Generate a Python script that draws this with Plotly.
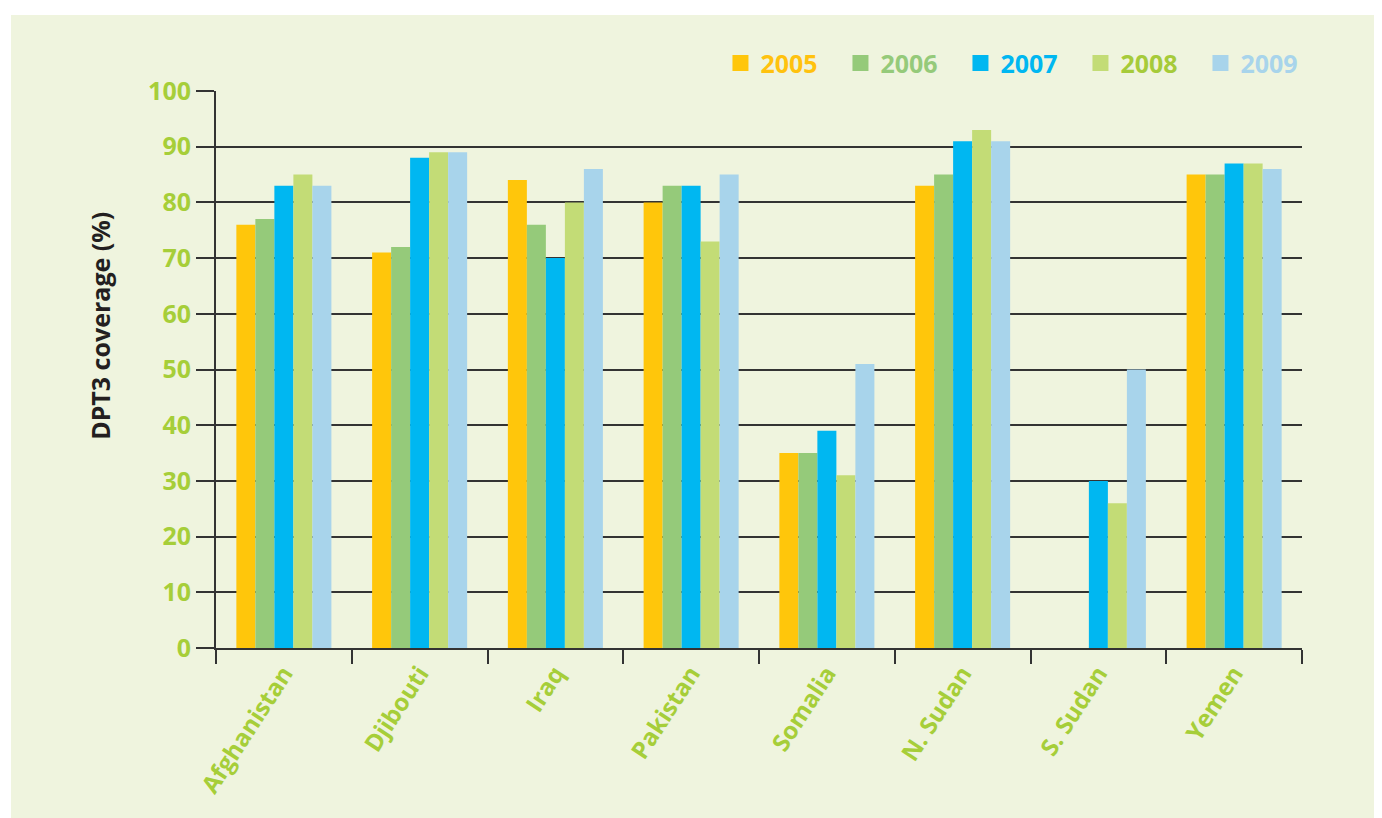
import plotly.graph_objects as go

countries = ["Afghanistan", "Djibouti", "Iraq", "Pakistan", "Somalia", "N. Sudan", "S. Sudan", "Yemen"]
years = ["2005", "2006", "2007", "2008", "2009"]
v2005 = [76, 71, 84, 80, 35, 83, None, 85]
v2006 = [77, 72, 76, 83, 35, 85, None, 85]
v2007 = [83, 88, 70, 83, 39, 91, 30, 87]
v2008 = [85, 89, 80, 73, 31, 93, 26, 87]
v2009 = [83, 89, 86, 85, 51, 91, 50, 86]
series = [v2005, v2006, v2007, v2008, v2009]
y_ticks = [0, 10, 20, 30, 40, 50, 60, 70, 80, 90, 100]

bar_colors = ["#FFC60B", "#95CA7A", "#00B7F1", "#C3DC76", "#A8D4EB"]
text_colors = ["#FFC20E", "#95CA7A", "#00B7F1", "#A6CB3A", "#A8D4EB"]
BG = "#EFF4DE"
GREEN = "#A6CE39"
DARK = "#333333"
FONT = "Open Sans"

fig = go.Figure()
for yr, vals, bc in zip(years, series, bar_colors):
    fig.add_trace(go.Bar(
        x=countries, y=vals, name=yr, showlegend=False,
        marker=dict(color=bc, line=dict(width=0)),
    ))
# legend entries (square keys with coloured labels)
for yr, bc, tc in zip(years, bar_colors, text_colors):
    fig.add_trace(go.Scatter(
        x=[None], y=[None], mode="markers",
        name=f'<span style="color:{tc}">{yr}</span>',
        marker=dict(symbol="square", size=17, color=bc, line=dict(width=0)),
    ))

# page body has an 8px margin; compensate so the figure lines up with the target
W, H = 1374, 810
L, R, T, B = 208, 80, 83, 170
pw, ph = W - L - R, H - T - B

fig.add_shape(type="rect", xref="paper", yref="paper", layer="below",
              x0=(3 - L) / pw, x1=(W + 20 - L) / pw,
              y0=(H - B - (H + 20)) / ph, y1=(H - B - 7) / ph,
              fillcolor=BG, line=dict(width=0))

fig.add_annotation(text="DPT3 coverage (%)", textangle=-90, showarrow=False,
                   xref="paper", yref="paper", x=-0.107, y=0.578,
                   xanchor="center", yanchor="middle",
                   font=dict(family=FONT, size=25, color="#231F20", weight="bold"))

fig.update_layout(
    width=W, height=H,
    margin=dict(l=L, r=R, t=T, b=B, pad=0),
    paper_bgcolor="white",
    plot_bgcolor="rgba(0,0,0,0)",
    barmode="group", bargap=0.3, bargroupgap=0,
    font=dict(family=FONT, color=GREEN),
    legend=dict(orientation="h", x=1.017, xanchor="right", y=1.05, yanchor="middle",
                font=dict(family=FONT, size=25, weight="bold"),
                bgcolor="rgba(0,0,0,0)", itemwidth=30, itemsizing="trace",
                entrywidth=75, traceorder="normal"),
    xaxis=dict(
        type="category", tickson="boundaries", ticks="outside", ticklen=14,
        tickwidth=2, tickcolor=DARK, showline=True, linecolor=DARK, linewidth=2,
        tickangle=-57, tickfont=dict(family=FONT, size=24, color=GREEN, weight="bold"),
        showgrid=False, range=[-0.5, 7.5],
    ),
    yaxis=dict(
        range=[0, 100], tickvals=y_ticks, ticks="outside", ticklen=18, tickwidth=2,
        tickcolor=DARK, showline=True, linecolor=DARK, linewidth=2,
        showgrid=True, gridcolor=DARK, gridwidth=2, zeroline=False,
        tickfont=dict(family=FONT, size=25, color=GREEN, weight="bold"),
    ),
)

fig.write_html("out.html")
